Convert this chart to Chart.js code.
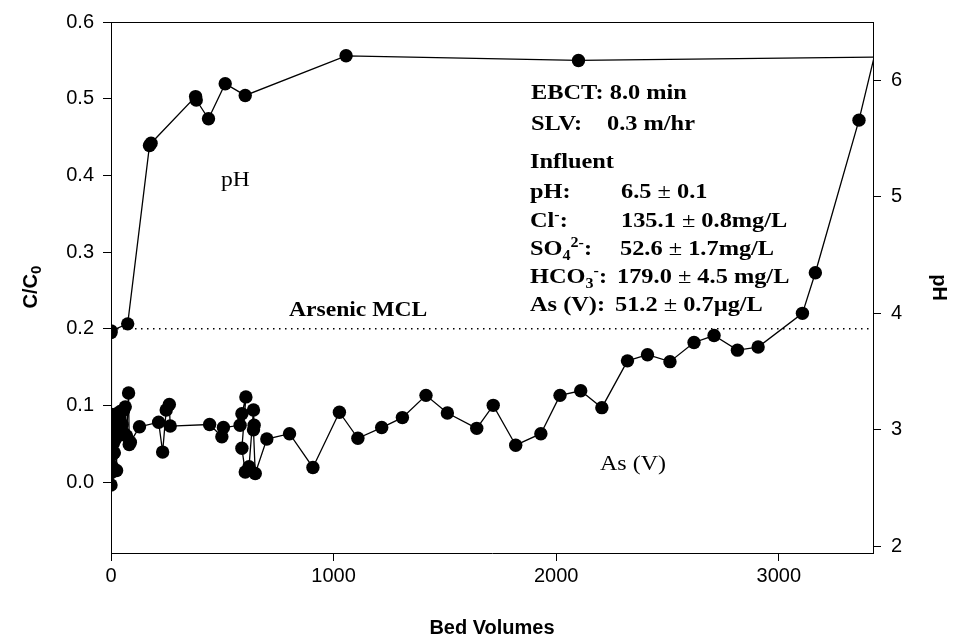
<!DOCTYPE html>
<html>
<head>
<meta charset="utf-8">
<script src="https://cdn.jsdelivr.net/npm/chart.js@4.4.1/dist/chart.umd.min.js"></script>
<style>
  html, body { margin: 0; padding: 0; background: #fff; }
  #wrap { width: 955px; height: 641px; }
</style>
</head>
<body>
<div id="wrap"><canvas id="c" width="955" height="641"></canvas></div>
<script>
// ---------- DATA ----------
const asBedVolumes = [0, 2, 4, 2, 4, 0, 0, 6, 10, 12, 15, 18, 20, 25, 27, 30, 35, 42, 50, 57, 60, 64, 70, 79, 82, 87,
  128, 214, 232, 248, 262, 266, 443, 498, 505, 580, 588, 606, 588, 603, 620, 640, 643, 640, 648, 700, 802, 907,
  1026, 1109, 1216, 1309, 1415, 1511, 1643, 1717, 1818, 1931, 2017, 2110, 2205, 2320, 2410, 2511, 2619, 2709,
  2814, 2907, 3106, 3164, 3360, 3460];
const asCC0 = [0.195, 0.088, 0.072, 0.050, 0.035, 0.012, -0.004, 0.020, 0.050, 0.070, 0.038, 0.055, 0.072, 0.015, 0.089, 0.060, 0.080, 0.092, 0.075, 0.094, 0.063, 0.098, 0.060, 0.116, 0.049, 0.052,
  0.072, 0.078, 0.039, 0.094, 0.101, 0.073, 0.075, 0.059, 0.071, 0.074, 0.089, 0.111, 0.044, 0.013, 0.020, 0.094, 0.074, 0.068, 0.011, 0.056, 0.063, 0.019,
  0.091, 0.057, 0.071, 0.084, 0.113, 0.090, 0.070, 0.100, 0.048, 0.063, 0.113, 0.119, 0.097, 0.158, 0.166, 0.157, 0.182, 0.191,
  0.172, 0.176, 0.220, 0.273, 0.472, 0.593];
const phBedVolumes = [0, 75, 173, 180, 380, 383, 438, 513, 603, 1056, 2100, 3500];
const phValues = [3.85, 3.91, 5.44, 5.46, 5.86, 5.83, 5.67, 5.97, 5.87, 6.21, 6.17, 6.20];
const mclBedVolumes = [0, 3423];
const mclValue = [0.2, 0.2];
const xTicks = [0, 1000, 2000, 3000];
const yTicks = [0.0, 0.1, 0.2, 0.3, 0.4, 0.5, 0.6];
const y2Ticks = [2, 3, 4, 5, 6];

// ---------- HELPERS ----------
const SANS = '"Liberation Sans", Arial, sans-serif';
const SERIF = '"Liberation Serif", "Times New Roman", serif';
function pts(xs, ys) { return xs.map((x, i) => ({ x: x, y: ys[i] })); }

function drawRich(ctx, x, y, segs, size, bold, family, sx) {
  ctx.save();
  ctx.translate(x, y);
  ctx.scale(sx, 1);
  ctx.textBaseline = 'alphabetic';
  ctx.textAlign = 'left';
  ctx.fillStyle = '#000';
  let cx = 0;
  for (const s of segs) {
    if (s.at !== undefined) cx = (s.at - x) / sx;
    const small = s.sub || s.sup;
    const fs = small ? size * 0.66 : size;
    const b = (s.bold === undefined ? bold : s.bold);
    ctx.font = (b ? 'bold ' : '') + fs + 'px ' + family;
    const dy = s.sub ? size * 0.22 : (s.sup ? -size * 0.40 : 0);
    ctx.fillText(s.t, cx, dy);
    cx += ctx.measureText(s.t).width;
  }
  ctx.restore();
}

const annotations = {
  id: 'annotations',
  afterDatasetsDraw(chart) {
    const ctx = chart.ctx;
    const a = chart.chartArea;
    // top frame line
    ctx.save();
    ctx.strokeStyle = '#000';
    ctx.lineWidth = 1;
    ctx.beginPath();
    ctx.moveTo(a.left, a.top + 0.5);
    ctx.lineTo(a.right, a.top + 0.5);
    ctx.stroke();
    ctx.restore();

    const S = 21, SX = 1.16;
    // plot labels
    drawRich(ctx, 221, 186, [{ t: 'pH' }], 20, false, SERIF, 1.18);
    drawRich(ctx, 289, 316, [{ t: 'Arsenic MCL' }], 20, true, SERIF, 1.18);
    drawRich(ctx, 600, 470, [{ t: 'As (V)' }], 20, false, SERIF, 1.2);

    // info block
    drawRich(ctx, 531, 99, [{ t: 'EBCT: 8.0 min' }], S, true, SERIF, SX);
    drawRich(ctx, 531, 130, [{ t: 'SLV:' }, { t: '0.3 m/hr', at: 607 }], S, true, SERIF, SX);
    drawRich(ctx, 530, 168, [{ t: 'Influent' }], S, true, SERIF, SX);
    drawRich(ctx, 530, 198, [{ t: 'pH:' }, { t: '6.5', at: 621 }, { t: ' \u00B1 ', bold: false }, { t: '0.1' }], S, true, SERIF, SX);
    drawRich(ctx, 530, 227, [{ t: 'Cl' }, { t: '-', sup: true }, { t: ':' }, { t: '135.1', at: 621 }, { t: ' \u00B1 ', bold: false }, { t: '0.8mg/L' }], S, true, SERIF, SX);
    drawRich(ctx, 530, 255, [{ t: 'SO' }, { t: '4', sub: true }, { t: '2-', sup: true }, { t: ':' }, { t: '52.6', at: 620 }, { t: ' \u00B1 ', bold: false }, { t: '1.7mg/L' }], S, true, SERIF, SX);
    drawRich(ctx, 530, 283, [{ t: 'HCO' }, { t: '3', sub: true }, { t: '-', sup: true }, { t: ':' }, { t: '179.0', at: 617 }, { t: ' \u00B1 ', bold: false }, { t: '4.5 mg/L' }], S, true, SERIF, SX);
    drawRich(ctx, 530, 311, [{ t: 'As (V):' }, { t: '51.2', at: 615 }, { t: ' \u00B1 ', bold: false }, { t: '0.7\u00B5g/L' }], S, true, SERIF, SX);

    // left axis title C/C0 (rotated)
    ctx.save();
    ctx.translate(37, 287);
    ctx.rotate(-Math.PI / 2);
    ctx.fillStyle = '#000';
    ctx.textBaseline = 'alphabetic';
    ctx.font = 'bold 20px ' + SANS;
    const w1 = ctx.measureText('C/C').width;
    ctx.font = 'bold 15px ' + SANS;
    const w2 = ctx.measureText('0').width;
    let sx0 = -(w1 + w2) / 2;
    ctx.font = 'bold 20px ' + SANS;
    ctx.fillText('C/C', sx0, 0);
    ctx.font = 'bold 15px ' + SANS;
    ctx.fillText('0', sx0 + w1, 4);
    ctx.restore();
  }
};

const tickFont = { family: SANS, size: 20 };
const axisGrid = { drawOnChartArea: false, drawTicks: true, tickLength: 8, color: '#000', tickColor: '#000', tickWidth: 1 };
const axisBorder = { display: true, color: '#000', width: 1 };

new Chart(document.getElementById('c'), {
  type: 'scatter',
  data: {
    datasets: [
      { label: 'As (V)', data: pts(asBedVolumes, asCC0), showLine: true, yAxisID: 'y',
        borderColor: '#000', backgroundColor: '#000', borderWidth: 1.3,
        pointRadius: 6.7, pointBorderWidth: 0, pointBackgroundColor: '#000' },
      { label: 'pH', data: pts(phBedVolumes, phValues), showLine: true, yAxisID: 'y2',
        borderColor: '#000', backgroundColor: '#000', borderWidth: 1.3,
        pointRadius: 6.7, pointBorderWidth: 0, pointBackgroundColor: '#000' },
      { label: 'Arsenic MCL', data: pts(mclBedVolumes, mclValue), showLine: true, yAxisID: 'y',
        borderColor: '#000', borderWidth: 1.5, borderDash: [1.5, 4.5], pointRadius: 0 }
    ]
  },
  options: {
    responsive: false,
    animation: false,
    events: [],
    layout: { padding: { top: 20, left: 0, right: 0, bottom: 0 } },
    plugins: { legend: { display: false }, tooltip: { enabled: false } },
    scales: {
      x: {
        type: 'linear', position: 'bottom', min: 0, max: 3423,
        afterBuildTicks: s => { s.ticks = xTicks.map(v => ({ value: v })); },
        afterFit: s => { s.height = 88; },
        ticks: { font: tickFont, color: '#000', padding: 3, maxRotation: 0, callback: v => String(v) },
        grid: axisGrid, border: axisBorder,
        title: { display: true, text: 'Bed Volumes', color: '#000', font: { family: SANS, size: 20, weight: 'bold' }, padding: { top: 0, bottom: 1 } }
      },
      y: {
        type: 'linear', position: 'left', min: -0.0926, max: 0.6,
        afterBuildTicks: s => { s.ticks = yTicks.map(v => ({ value: v })); },
        afterFit: s => { s.width = 111; },
        ticks: { font: tickFont, color: '#000', padding: 9, callback: v => Number(v).toFixed(1) },
        grid: axisGrid, border: axisBorder,
        title: { display: false }
      },
      y2: {
        type: 'linear', position: 'right', min: 1.944, max: 6.5,
        afterBuildTicks: s => { s.ticks = y2Ticks.map(v => ({ value: v })); },
        afterFit: s => { s.width = 82; },
        ticks: { font: tickFont, color: '#000', padding: 10, callback: v => String(v) },
        grid: axisGrid, border: axisBorder,
        title: { display: true, text: 'pH', color: '#000', font: { family: SANS, size: 20, weight: 'bold' }, padding: { top: 4, bottom: 4 } }
      }
    }
  },
  plugins: [annotations]
});
</script>
</body>
</html>
